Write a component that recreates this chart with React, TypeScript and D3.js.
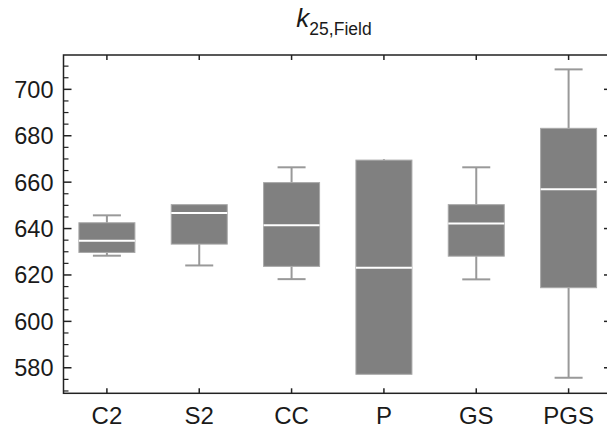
import React from "react";
import * as d3 from "d3";

// values
const categories = ["C2", "S2", "CC", "P", "GS", "PGS"];
const whiskerLow = [628.3, 624.1, 618.2, 577.2, 618.1, 575.7];
const q1 = [629.7, 633.3, 623.7, 577.2, 628.1, 614.5];
const median = [634.7, 646.7, 641.4, 623.1, 642.2, 656.9];
const q3 = [642.5, 650.3, 659.8, 669.5, 650.3, 683.2];
const whiskerHigh = [645.7, 650.3, 666.4, 669.9, 666.4, 708.6];
const yTicks = [580, 600, 620, 640, 660, 680, 700];

const W = 607;
const H = 432;
const left = 63.5;
const right = 612;
const top = 55;
const bottom = 393.3;

const App = () => {
  const x = d3.scalePoint<string>().domain(categories).range([left, right]).padding(0.47);
  const y = d3.scaleLinear().domain([569, 714.8]).range([bottom, top]);
  const minor = d3.range(570, 715, 5).filter(v => v % 20 !== 0);
  const boxW = 56;
  const capW = 28;
  const axisColor = "#222";
  const font = "Liberation Sans, Arial, sans-serif";

  const data = categories.map((c, i) => ({
    c,
    lo: whiskerLow[i],
    q1: q1[i],
    med: median[i],
    q3: q3[i],
    hi: whiskerHigh[i],
  }));

  return (
    <svg width={W} height={H} style={{ position: "absolute", left: 0, top: 0, background: "#fff" }}>
      {/* title */}
      <text x={334} y={27} textAnchor="middle" fontFamily={font} fill="#1a1a1a">
        <tspan fontStyle="italic" fontSize={26}>k</tspan>
        <tspan fontSize={17.5} dy={8}>25,Field</tspan>
      </text>

      {/* boxes */}
      {data.map(d => {
        const cx = x(d.c)!;
        return (
          <g key={d.c}>
            <line x1={cx} x2={cx} y1={y(d.hi)} y2={y(d.q3)} stroke="#999" strokeWidth={2} />
            <line x1={cx} x2={cx} y1={y(d.q1)} y2={y(d.lo)} stroke="#999" strokeWidth={2} />
            {d.hi > d.q3 + 0.5 && (
              <line x1={cx - capW / 2} x2={cx + capW / 2} y1={y(d.hi)} y2={y(d.hi)} stroke="#999" strokeWidth={2} />
            )}
            {d.lo < d.q1 - 0.5 && (
              <line x1={cx - capW / 2} x2={cx + capW / 2} y1={y(d.lo)} y2={y(d.lo)} stroke="#999" strokeWidth={2} />
            )}
            <rect
              x={cx - boxW / 2}
              y={y(d.q3)}
              width={boxW}
              height={y(d.q1) - y(d.q3)}
              fill="#808080"
              stroke="#a8a8a8"
              strokeWidth={1}
            />
            <line x1={cx - boxW / 2} x2={cx + boxW / 2} y1={y(d.med)} y2={y(d.med)} stroke="#fff" strokeWidth={2} />
          </g>
        );
      })}

      {/* frame */}
      <rect x={left} y={top} width={right - left} height={bottom - top} fill="none" stroke={axisColor} strokeWidth={1.5} />

      {/* y ticks */}
      {yTicks.map(t => (
        <g key={t}>
          <line x1={left} x2={left + 8} y1={y(t)} y2={y(t)} stroke={axisColor} strokeWidth={1.5} />
          <line x1={right} x2={right - 8} y1={y(t)} y2={y(t)} stroke={axisColor} strokeWidth={1.5} />
          <text x={53.5} y={y(t)} dy="0.36em" textAnchor="end" fontFamily={font} fontSize={23.5} fill="#1a1a1a">
            {t}
          </text>
        </g>
      ))}
      {minor.map(t => (
        <g key={"m" + t}>
          <line x1={left} x2={left + 5} y1={y(t)} y2={y(t)} stroke={axisColor} strokeWidth={1.2} />
          <line x1={right} x2={right - 5} y1={y(t)} y2={y(t)} stroke={axisColor} strokeWidth={1.2} />
        </g>
      ))}

      {/* x ticks */}
      {categories.map(c => (
        <g key={c}>
          <line x1={x(c)!} x2={x(c)!} y1={bottom} y2={bottom - 5} stroke={axisColor} strokeWidth={1.5} />
          <line x1={x(c)!} x2={x(c)!} y1={top} y2={top + 5} stroke={axisColor} strokeWidth={1.5} />
          <text x={x(c)!} y={424} textAnchor="middle" fontFamily={font} fontSize={24} fill="#1a1a1a">
            {c}
          </text>
        </g>
      ))}
    </svg>
  );
};

export default App;
